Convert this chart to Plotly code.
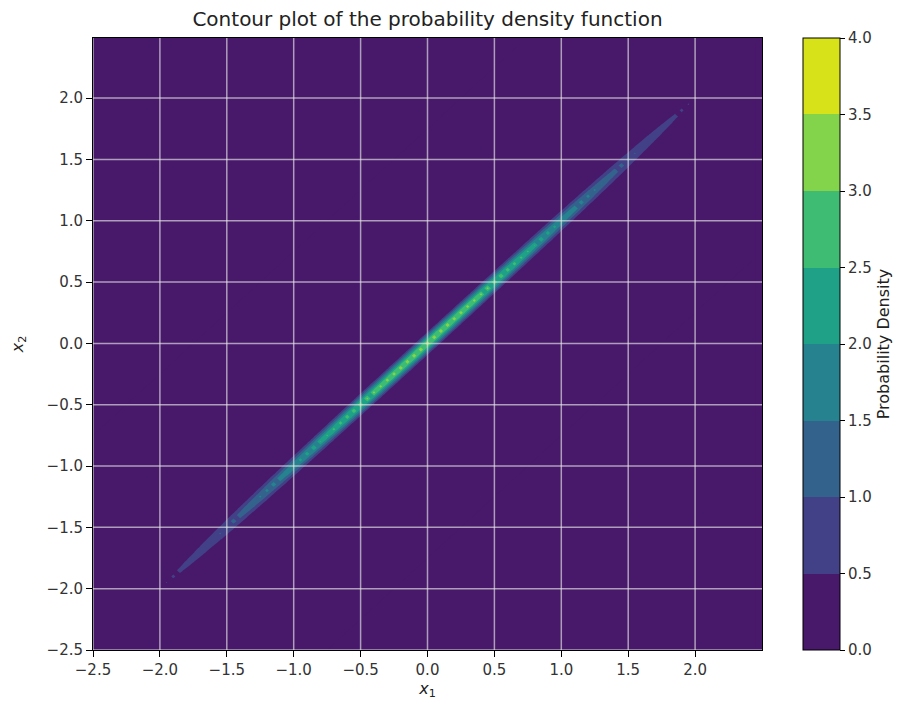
import numpy as np
import plotly.graph_objects as go

# bivariate normal: centred at origin, unit variances, very strong correlation
mean = [0.0, 0.0]
cov = [[1.0, 0.999], [0.999, 1.0]]
grid_start = -2.5
grid_stop = 2.5
grid_step = 0.05

levels = [0.0, 0.5, 1.0, 1.5, 2.0, 2.5, 3.0, 3.5, 4.0]
band_colors = ["#48186a", "#424086", "#33638d", "#26828e",
               "#1fa187", "#3fbc73", "#84d44b", "#d8e219"]
tick_vals = [-2.5, -2.0, -1.5, -1.0, -0.5, 0.0, 0.5, 1.0, 1.5, 2.0]
tick_text = [("%.1f" % v).replace("-", "\u2212") for v in tick_vals]
cbar_text = ["%.1f" % v for v in levels]

x1 = np.arange(grid_start, grid_stop, grid_step)
x2 = np.arange(grid_start, grid_stop, grid_step)
X1, X2 = np.meshgrid(x1, x2)
c = np.array(cov)
inv = np.linalg.inv(c)
d1 = X1 - mean[0]
d2 = X2 - mean[1]
q = inv[0, 0] * d1 ** 2 + 2 * inv[0, 1] * d1 * d2 + inv[1, 1] * d2 ** 2
Z = np.exp(-0.5 * q) / (2 * np.pi * np.sqrt(np.linalg.det(c)))

# plotly evaluates a band's fill at its midpoint; domain runs from start-size/2 to end+size/2
n = len(levels)
colorscale = [[0.0, band_colors[0]]]
for i, col in enumerate(band_colors):
    colorscale.append([(i + 1) / n, col])
colorscale.append([1.0, band_colors[-1]])

# stepped scale for the separate colorbar (0..4 with ticks on band edges)
nb = len(band_colors)
step_scale = []
for i, col in enumerate(band_colors):
    step_scale.append([i / nb, col])
    step_scale.append([(i + 1) / nb, col])

font = "DejaVu Sans"

fig = go.Figure()
fig.add_trace(go.Contour(
    x=x1, y=x2, z=Z,
    colorscale=colorscale,
    autocontour=False,
    contours=dict(start=levels[0], end=levels[-1], size=0.5, coloring="fill", showlines=False),
    line=dict(width=0, smoothing=0),
    showscale=False,
))

fig.add_trace(go.Scatter(
    x=[None], y=[None], mode="markers", hoverinfo="skip",
    marker=dict(
        color=[0], cmin=levels[0], cmax=levels[-1], colorscale=step_scale, showscale=True,
        colorbar=dict(
            x=1.0613, xanchor="left", y=0.5, yanchor="middle", len=1, lenmode="fraction",
            thickness=37, xpad=0, ypad=0, outlinecolor="black", outlinewidth=1,
            tickvals=levels, ticktext=cbar_text, ticks="outside", ticklen=5,
            tickcolor="black", tickfont=dict(size=15, color="#333333", family=font),
            title=dict(text="Probability Density", side="right",
                       font=dict(size=16, color="#222222", family=font)),
        ),
    ),
))

# grid lines drawn above the filled contours, as matplotlib does here
for v in tick_vals:
    fig.add_shape(type="line", xref="x", yref="paper", x0=v, x1=v, y0=0, y1=1,
                  line=dict(color="rgba(230,230,230,0.65)", width=1.5), layer="above")
    fig.add_shape(type="line", xref="paper", yref="y", x0=0, x1=1, y0=v, y1=v,
                  line=dict(color="rgba(230,230,230,0.65)", width=1.5), layer="above")

axis_common = dict(
    tickvals=tick_vals, ticktext=tick_text, ticks="outside", ticklen=6, tickcolor="black",
    showgrid=False, zeroline=False, showline=True, linecolor="black", linewidth=1, mirror=True,
    tickfont=dict(size=15, color="#333333", family=font),
)

# the page body adds an 8px offset, so left/top margins are trimmed by that much
fig.update_layout(
    width=907, height=712,
    margin=dict(l=85, r=153, t=30, b=70, autoexpand=False),
    paper_bgcolor="white", plot_bgcolor=band_colors[0],
    title=dict(text="Contour plot of the probability density function", x=0.5, xref="paper",
               y=1 - 11 / 712, yanchor="middle",
               font=dict(size=20, color="#222222", family=font)),
    xaxis=dict(range=[-2.5, 2.5], title=dict(text="<i>x</i><sub>1</sub>", standoff=3,
               font=dict(size=16, color="#222222", family=font)), **axis_common),
    yaxis=dict(range=[-2.5, 2.49], title=dict(text="<i>x</i><sub>2</sub>", standoff=20,
               font=dict(size=16, color="#222222", family=font)), **axis_common),
    showlegend=False,
)

fig.write_html("out.html")
